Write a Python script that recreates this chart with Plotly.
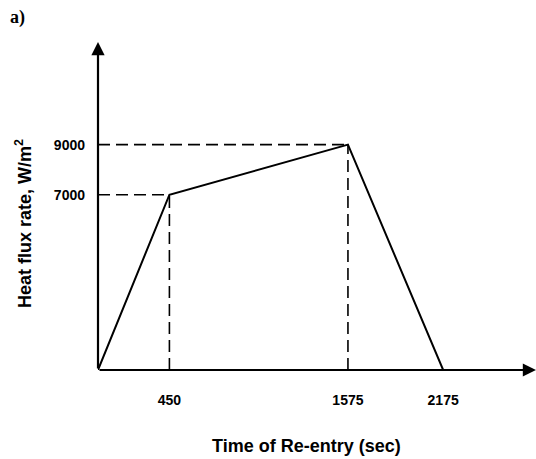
import plotly.graph_objects as go

# Data
time_s = [0, 450, 1575, 2175]
heat_flux = [0, 7000, 9000, 0]
x_ticks = [450, 1575, 2175]
y_ticks = [7000, 9000]
x_title = "Time of Re-entry (sec)"
y_title = "Heat flux rate, W/m<sup>2</sup>"

X_MAX = 2760
Y_MAX = 13100

W, H = 536, 459
ML, MR, MT, MB = 98, 0, 42, 89
PW, PH = W - ML - MR, H - MT - MB


def px_to_paper(px, py):
    return (px - ML) / PW, (H - MB - py) / PH


fig = go.Figure()

# Dashed guide lines
for xv, yv in zip(time_s[1:3], heat_flux[1:3]):
    fig.add_trace(go.Scatter(x=[0, xv], y=[yv, yv], mode="lines",
                             line=dict(color="black", width=1.6, dash="12px,6px"),
                             hoverinfo="skip", showlegend=False))
    fig.add_trace(go.Scatter(x=[xv, xv], y=[0, yv], mode="lines",
                             line=dict(color="black", width=1.6, dash="12px,6px"),
                             hoverinfo="skip", showlegend=False))

# Main profile
fig.add_trace(go.Scatter(x=time_s, y=heat_flux, mode="lines",
                         line=dict(color="black", width=2),
                         showlegend=False))

# Axes with arrows
fig.add_annotation(x=X_MAX, y=0, ax=0, ay=0, xref="x", yref="y", axref="x", ayref="y",
                   showarrow=True, arrowhead=2, arrowsize=1.2, arrowwidth=2.2,
                   arrowcolor="black", text="")
fig.add_annotation(x=0, y=Y_MAX, ax=0, ay=0, xref="x", yref="y", axref="x", ayref="y",
                   showarrow=True, arrowhead=2, arrowsize=1.2, arrowwidth=2.2,
                   arrowcolor="black", text="")

font_t = dict(family="Liberation Sans", size=14, color="black", weight="bold")
font_title = dict(family="Liberation Sans", size=18, color="black", weight="bold")

# Panel label
ax_, ay_ = px_to_paper(8, 18)
fig.add_annotation(xref="paper", yref="paper", x=ax_, y=ay_,
                   text="<b>a)</b>", showarrow=False, xanchor="left", yanchor="middle",
                   font=dict(family="Liberation Serif", size=18, color="black"))

# Axis titles
tx, ty = px_to_paper(306, 446)
fig.add_annotation(xref="paper", yref="paper", x=tx, y=ty, text=x_title,
                   showarrow=False, xanchor="center", yanchor="middle", font=font_title)
yx, yy = px_to_paper(23, 224)
fig.add_annotation(xref="paper", yref="paper", x=yx, y=yy, text=y_title, textangle=-90,
                   showarrow=False, xanchor="center", yanchor="middle", font=font_title)

fig.update_layout(
    width=W, height=H,
    margin=dict(l=ML, r=MR, t=MT, b=MB),
    paper_bgcolor="white", plot_bgcolor="white",
    xaxis=dict(range=[0, X_MAX], tickvals=x_ticks, ticktext=[str(v) for v in x_ticks],
               showgrid=False, zeroline=False, showline=False, ticks="",
               ticklabelstandoff=20, tickfont=font_t, automargin=False),
    yaxis=dict(range=[0, Y_MAX], tickvals=y_ticks, ticktext=[str(v) for v in y_ticks],
               showgrid=False, zeroline=False, showline=False, ticks="",
               ticklabelstandoff=12, tickfont=font_t, automargin=False),
)

fig.write_html("out.html", config={"displayModeBar": False},
               post_script="document.body.style.margin='0px';")
